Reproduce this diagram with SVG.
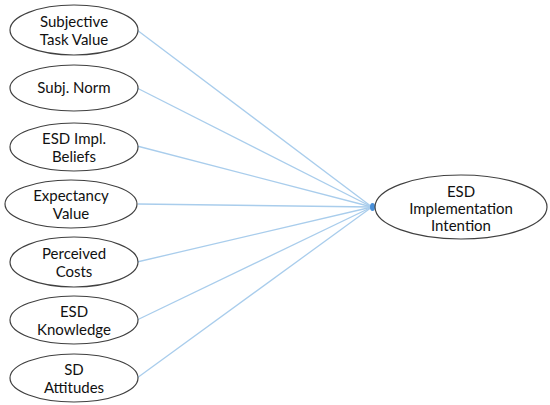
<svg xmlns="http://www.w3.org/2000/svg" width="550" height="405" viewBox="0 0 550 405">
<style>
.n ellipse{fill:#fff;stroke:#404040;stroke-width:1.2}
.n text{font-family:Lato,"Open Sans","Liberation Sans",sans-serif;font-size:15px;fill:#111;text-anchor:middle}
.c line{stroke:#a9cdec;stroke-width:1.3}
</style>
<rect width="550" height="405" fill="#fff"/>
<g class="c" id="connectors">
<line x1="137" y1="30" x2="372" y2="207"/>
<line x1="137" y1="88" x2="372" y2="207"/>
<line x1="137" y1="146" x2="372" y2="207"/>
<line x1="138" y1="204" x2="372" y2="207"/>
<line x1="137" y1="262" x2="372" y2="207"/>
<line x1="137" y1="320" x2="372" y2="207"/>
<line x1="137" y1="378" x2="372" y2="207"/>
<ellipse cx="372.5" cy="207" rx="2.5" ry="4" fill="#4a90d9"/>
</g>
<g class="n" id="n1"><ellipse cx="74" cy="30" rx="64" ry="25"/><text x="74" y="27">Subjective</text><text x="74" y="45">Task Value</text></g>
<g class="n" id="n2"><ellipse cx="74" cy="88" rx="64" ry="23"/><text x="74" y="93">Subj. Norm</text></g>
<g class="n" id="n3"><ellipse cx="74" cy="147" rx="64" ry="24"/><text x="74" y="144">ESD Impl.</text><text x="74" y="162">Beliefs</text></g>
<g class="n" id="n4"><ellipse cx="71" cy="204" rx="66" ry="24"/><text x="71" y="201">Expectancy</text><text x="71" y="219">Value</text></g>
<g class="n" id="n5"><ellipse cx="74" cy="262" rx="64" ry="25"/><text x="74" y="259">Perceived</text><text x="74" y="277">Costs</text></g>
<g class="n" id="n6"><ellipse cx="74" cy="320" rx="64" ry="24"/><text x="74" y="317">ESD</text><text x="74" y="335">Knowledge</text></g>
<g class="n" id="n7"><ellipse cx="74" cy="378" rx="64" ry="24"/><text x="74" y="375">SD</text><text x="74" y="393">Attitudes</text></g>
<g class="n" id="target"><ellipse cx="461" cy="207" rx="86" ry="32"/><text x="461" y="197">ESD</text><text x="461" y="214">Implementation</text><text x="461" y="231">Intention</text></g>
</svg>
